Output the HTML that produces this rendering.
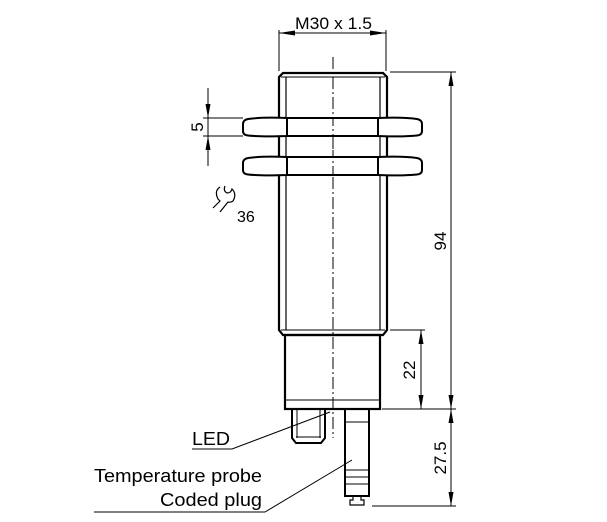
<!DOCTYPE html>
<html><head><style>body{margin:0;background:#fff}svg{display:block}</style></head><body>
<svg width="607" height="522" viewBox="0 0 607 522" xmlns="http://www.w3.org/2000/svg" font-family="Liberation Sans, sans-serif" fill="none" stroke="#000">
<!-- center line -->
<line x1="333" y1="57" x2="333" y2="438" stroke-width="1" stroke-dasharray="12,3,2,3"/>
<!-- threaded body -->
<path d="M279,330 L279,77 L283,73 L383,73 L387,77 L387,330 L383,335 L283,335 Z" stroke-width="2.2"/>
<line x1="286" y1="77" x2="286" y2="330" stroke-width="1.2"/>
<line x1="380" y1="77" x2="380" y2="330" stroke-width="1.2"/>
<line x1="281" y1="77" x2="385" y2="77" stroke-width="1"/>
<line x1="281" y1="330" x2="385" y2="330" stroke-width="1"/>
<!-- nuts -->
<g stroke-width="2" fill="#fff">
<path d="M287,118 L378,118 L378,136 L287,136 Z"/>
<path d="M287,118 Q262,117 248,119 Q243,120 243,124 L243,131 Q243,135 248,135.5 Q262,137 287,136 Z"/>
<path d="M378,118 Q403,117 417,119 Q422,120 422,124 L422,131 Q422,135 417,135.5 Q403,137 378,136 Z"/>
<path d="M287,157 L378,157 L378,175 L287,175 Z"/>
<path d="M287,157 Q262,156 248,158 Q243,159 243,163 L243,170 Q243,174 248,174.5 Q262,176 287,175 Z"/>
<path d="M378,157 Q403,156 417,158 Q422,159 422,163 L422,170 Q422,174 417,174.5 Q403,176 378,175 Z"/>
</g>
<line x1="333" y1="118" x2="333" y2="175" stroke-width="1" stroke-dasharray="8,3,2,3"/>
<!-- lower housing -->
<rect x="285" y="335" width="95" height="74" stroke-width="2.2"/>
<line x1="285" y1="400" x2="380" y2="400" stroke-width="1"/>
<!-- LED connector -->
<path d="M292,409 L292,438 L296,443 L321,443 L325,438 L325,409" stroke-width="2"/>
<line x1="297" y1="409" x2="297" y2="438" stroke-width="1"/><line x1="320" y1="409" x2="320" y2="438" stroke-width="1"/>
<line x1="296" y1="437" x2="321" y2="437" stroke-width="1"/>
<!-- probe -->
<path d="M345,409 L345,496 L369,496 L369,409" stroke-width="2"/>
<line x1="345" y1="422" x2="369" y2="422" stroke-width="1"/>
<line x1="345" y1="470" x2="369" y2="470" stroke-width="1"/>
<line x1="345" y1="477" x2="369" y2="477" stroke-width="1"/>
<line x1="345" y1="484" x2="369" y2="484" stroke-width="1"/>
<path d="M353,496 L353,500 L350,500 L350,505 L364,505 L364,500 L361,500 L361,496" stroke-width="1.2"/>
<!-- dimensions -->
<g stroke-width="1">
<line x1="279" y1="30" x2="279" y2="71"/><line x1="386" y1="30" x2="386" y2="71"/>
<line x1="279" y1="33" x2="386" y2="33"/>
<line x1="390" y1="72" x2="456" y2="72"/>
<line x1="451" y1="72" x2="451" y2="506"/>
<line x1="382" y1="409" x2="456" y2="409"/>
<line x1="372" y1="506" x2="456" y2="506"/>
<line x1="390" y1="330" x2="425" y2="330"/>
<line x1="421" y1="330" x2="421" y2="409"/>
<line x1="203" y1="118" x2="243" y2="118"/><line x1="203" y1="136" x2="243" y2="136"/>
<line x1="208" y1="88" x2="208" y2="166"/>
<polyline points="192,449 232,449 330,412"/>
<polyline points="94,512 265,512 352,460"/>
</g>
<g fill="#000" stroke="none">
<path d="M279,33 l16,-2.5 v5z"/><path d="M386,33 l-16,-2.5 v5z"/>
<path d="M451,72 l-2.5,14 h5z"/><path d="M451,409 l-2.5,-14 h5z"/>
<path d="M451,409 l-2.5,14 h5z"/><path d="M451,506 l-2.5,-14 h5z"/>
<path d="M421,330 l-2.5,14 h5z"/><path d="M421,409 l-2.5,-14 h5z"/>
<path d="M208,118 l-2.5,-14 h5z"/><path d="M208,136 l-2.5,14 h5z"/>
</g>
<!-- wrench -->
<path d="M220,187 Q214,191 218,199 L220,201 L213,208 M225,186 Q223,191 227,193 Q231,193 232,189 Q237,194 233,201 Q230,203 228,202 L220,212" stroke-width="1.2"/>
<g fill="#000" stroke="none" font-size="17">
<text x="295" y="29" textLength="77" lengthAdjust="spacingAndGlyphs">M30 x 1.5</text>
<text x="237" y="222" font-size="16">36</text>
<text transform="translate(446,241) rotate(-90)" text-anchor="middle">94</text>
<text transform="translate(415,370) rotate(-90)" text-anchor="middle">22</text>
<text transform="translate(446,458) rotate(-90)" text-anchor="middle">27.5</text>
<text transform="translate(203,127) rotate(-90)" text-anchor="middle">5</text>
<text x="192" y="445" font-size="18" textLength="38" lengthAdjust="spacingAndGlyphs">LED</text>
<text x="94" y="482" font-size="18" textLength="168" lengthAdjust="spacingAndGlyphs">Temperature probe</text>
<text x="160" y="506" font-size="18" textLength="102" lengthAdjust="spacingAndGlyphs">Coded plug</text>
</g>
</svg>
</body></html>
